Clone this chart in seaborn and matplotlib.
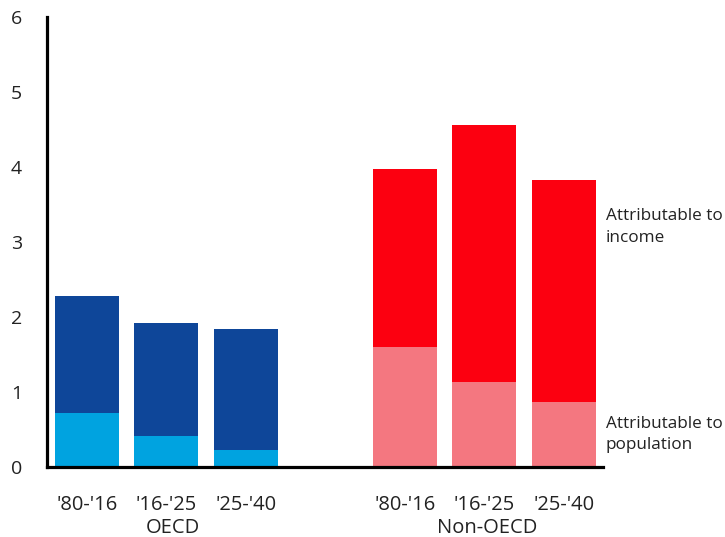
import pandas as pd
import seaborn as sns
import matplotlib.pyplot as plt

# values
periods = ["'80-'16", "'16-'25", "'25-'40"]
groups = ["OECD", "Non-OECD"]
oecd_population = [0.72, 0.41, 0.23]
oecd_income = [1.56, 1.51, 1.61]
nonoecd_population = [1.60, 1.13, 0.87]
nonoecd_income = [2.37, 3.43, 2.96]

slots = ["OECD 1", "OECD 2", "OECD 3", "gap", "Non-OECD 1", "Non-OECD 2", "Non-OECD 3"]
slot_labels = periods + [""] + periods

DARK_BLUE = "#0E4699"
LIGHT_BLUE = "#00A3E0"
RED = "#FC0010"
PINK = "#F47780"


def make_frame():
    rows = []
    for i, p in enumerate(periods):
        rows.append({"slot": slots[i], "group": "OECD", "population": oecd_population[i],
                     "total": oecd_population[i] + oecd_income[i]})
    for i, p in enumerate(periods):
        rows.append({"slot": slots[4 + i], "group": "Non-OECD", "population": nonoecd_population[i],
                     "total": nonoecd_population[i] + nonoecd_income[i]})
    return pd.DataFrame(rows)


def make_plot(data, filename):
    sns.set_style("white")
    plt.rcParams["font.family"] = ["Open Sans", "DejaVu Sans"]
    fig = plt.figure(figsize=(7.25, 5.37), dpi=100)
    ax = fig.add_axes([0.0648, 0.1304, 0.7676, 0.8379])

    top_colors = {s: (DARK_BLUE if g == "OECD" else RED) for s, g in zip(data["slot"], data["group"])}
    low_colors = {s: (LIGHT_BLUE if g == "OECD" else PINK) for s, g in zip(data["slot"], data["group"])}
    sns.barplot(data=data, x="slot", y="total", hue="slot", palette=top_colors, order=slots,
                width=0.8, saturation=1, legend=False, linewidth=0, ax=ax)
    sns.barplot(data=data, x="slot", y="population", hue="slot", palette=low_colors, order=slots,
                width=0.8, saturation=1, legend=False, linewidth=0, ax=ax)

    ax.set_xlim(-0.5, 6.5)
    ax.set_ylim(0, 6)
    ax.set_yticks(range(7))
    ax.set_xticks(range(7))
    ax.set_xticklabels(slot_labels)
    ax.set_xlabel("")
    ax.set_ylabel("")
    ax.tick_params(axis="y", length=0, pad=18, labelsize=14, colors="#222222")
    ax.tick_params(axis="x", length=0, pad=20, labelsize=14.5, colors="#222222")
    sns.despine(ax=ax)
    for side in ["left", "bottom"]:
        ax.spines[side].set_linewidth(2.3)
        ax.spines[side].set_color("black")

    trans = ax.get_xaxis_transform()
    ax.text(1.08, -0.136, groups[0], transform=trans, ha="center", va="center", fontsize=14.5, color="#222222")
    ax.text(5.04, -0.136, groups[1], transform=trans, ha="center", va="center", fontsize=14.5, color="#222222")

    ax.text(6.53, 3.2, "Attributable to\nincome", ha="left", va="center", fontsize=12.3,
            color="#222222", linespacing=1.45, clip_on=False)
    ax.text(6.53, 0.43, "Attributable to\npopulation", ha="left", va="center", fontsize=12.3,
            color="#222222", linespacing=1.45, clip_on=False)

    fig.savefig(filename, dpi=100)


data = make_frame()
make_plot(data, "out.png")
